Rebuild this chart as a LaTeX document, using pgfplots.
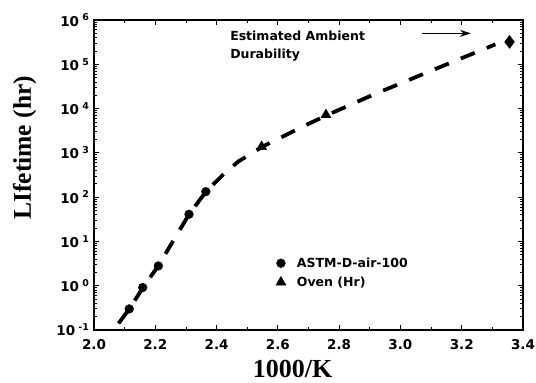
\documentclass[border=0pt]{standalone}
\usepackage{pgfplots}
\pgfplotsset{compat=1.18}
\usetikzlibrary{arrows.meta}
\usepackage{fontspec}
\setmainfont{DejaVu Sans}
\newfontfamily\timesf{Liberation Serif}
\begin{document}
\begin{tikzpicture}
\begin{axis}[
  name=ax,
  scale only axis, width=429pt, height=310pt,
  xmin=2.0, xmax=3.4, ymode=log, ymin=1e-1, ymax=1e6,
  xtick={2.0,2.2,...,3.4}, minor x tick num=1,
  xticklabels={2.0,2.2,2.4,2.6,2.8,3.0,3.2,3.4},
  ytick={1e-1,1e0,1e1,1e2,1e3,1e4,1e5,1e6},
  yticklabels={10\textsuperscript{ -1},10\textsuperscript{ 0},10\textsuperscript{ 1},10\textsuperscript{ 2},10\textsuperscript{ 3},10\textsuperscript{ 4},10\textsuperscript{ 5},10\textsuperscript{ 6}},
  tick label style={font=\fontsize{13.5}{15}\selectfont\bfseries},
  xticklabel style={yshift=-6pt},
  yticklabel style={xshift=-1pt},
  tick align=inside, axis line style={line width=1.4pt},
  major tick length=5pt, minor tick length=3pt,
  every tick/.style={black, line width=0.8pt},
  xlabel={\timesf\bfseries 1000/K}, ylabel={\timesf\bfseries LIfetime (hr)},
  xlabel style={font=\fontsize{26}{28}\selectfont, at={(axis description cs:0.463,-0.153)}, anchor=base},
  ylabel style={font=\fontsize{25.5}{28}\selectfont, at={(axis description cs:-0.1469,0.588)}, anchor=base},
  legend style={at={(axis cs:2.593,4.8)}, anchor=north west, draw=none, fill=none,
    font=\fontsize{12.5}{15}\selectfont\bfseries, row sep=4pt, column sep=9pt, inner sep=0pt},
  legend cell align=left,
  clip=false,
]
\addplot[black, line width=3.8pt, dash pattern=on 15pt off 13pt, forget plot] coordinates {
(2.08,0.141) (2.115,0.295) (2.16,0.912) (2.21,2.82) (2.31,40.7) (2.365,132)
(2.42,316) (2.47,631) (2.55,1380) (2.68,3890) (2.76,7080) (2.91,20400)
(3.12,81300) (3.31,282000)};
\addplot[only marks, mark=*, mark size=4.4pt, black] coordinates {
(2.115,0.30) (2.159,0.91) (2.21,2.8) (2.31,41) (2.365,133)};
\addlegendentry{ASTM-D-air-100}
\addplot[only marks, mark=triangle*, mark size=5.8pt, black] coordinates {
(2.547,1380) (2.757,7200)};
\addlegendentry{Oven (Hr)}
\addplot[only marks, mark=diamond*, mark size=6.5pt, black, forget plot] coordinates {
(3.356,320000)};
\node[anchor=north west, align=left, font=\fontsize{12.5}{17.5}\selectfont\bfseries, inner sep=0pt]
  at (axis cs:2.444,5.6e5) {Estimated Ambient\\Durability};
\draw[-{Stealth[length=11pt,width=7pt]}, line width=1.3pt] (axis cs:3.07,5e5) -- (axis cs:3.23,5e5);
\end{axis}
\pgfresetboundingbox
\path[use as bounding box] ([shift={(-94pt,-53pt)}]ax.south west) rectangle ([shift={(13pt,20pt)}]ax.north east);
\end{tikzpicture}
\end{document}
